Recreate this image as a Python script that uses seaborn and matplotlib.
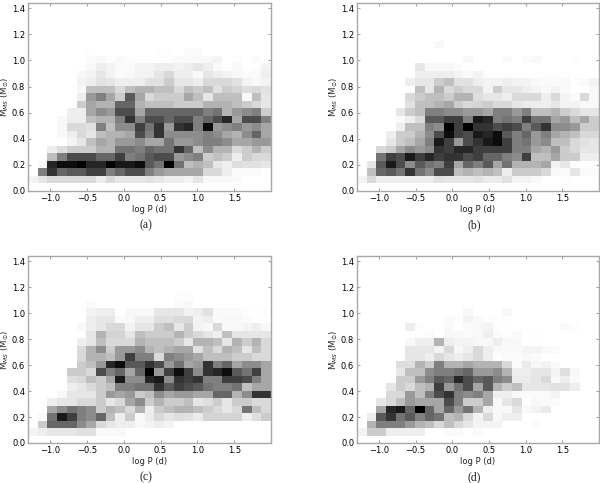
import numpy as np
import pandas as pd
import matplotlib
matplotlib.use('Agg')
import matplotlib.pyplot as plt
import seaborn as sns

# darkness of each cell, bottom row first, left column first (100 = black)
# rows shorter than 25 cells are white on the right
panel_a = [
    [],
    [5, 10, 15, 15, 15, 15, 15, 8, 15, 10, 10, 10, 12, 10, 7, 7, 5, 10, 3, 3, 3, 2],
    [0, 50, 80, 60, 65, 65, 75, 75, 50, 60, 70, 70, 50, 40, 35, 35, 35, 35, 15, 15, 7, 2, 2, 2],
    [0, 3, 85, 95, 95, 100, 85, 85, 100, 90, 90, 95, 65, 55, 100, 55, 25, 30, 25, 10, 7, 13, 12, 12, 10],
    [0, 0, 25, 50, 70, 70, 70, 60, 60, 75, 50, 55, 65, 70, 70, 40, 45, 50, 20, 25, 20, 7, 20, 15, 15],
    [0, 0, 7, 13, 20, 20, 20, 30, 30, 55, 55, 50, 60, 55, 55, 80, 60, 25, 45, 30, 30, 15, 20, 30, 20],
    [0, 0, 0, 0, 5, 10, 25, 35, 30, 40, 40, 45, 35, 35, 55, 40, 40, 45, 50, 50, 45, 35, 35, 40, 40],
    [0, 0, 0, 3, 7, 15, 10, 25, 30, 30, 35, 70, 50, 80, 45, 45, 45, 45, 50, 45, 35, 30, 45, 60, 35],
    [0, 0, 0, 3, 15, 15, 12, 50, 25, 45, 45, 75, 55, 80, 40, 80, 85, 50, 95, 40, 45, 50, 40, 45, 35],
    [0, 0, 0, 3, 7, 7, 25, 30, 30, 50, 80, 50, 70, 70, 60, 70, 70, 50, 60, 70, 85, 35, 70, 70, 50],
    [0, 0, 0, 0, 7, 7, 35, 45, 40, 70, 70, 35, 60, 60, 60, 60, 60, 60, 50, 55, 30, 40, 45, 50, 20],
    [0, 0, 0, 0, 0, 20, 35, 30, 30, 60, 60, 30, 25, 25, 25, 20, 20, 20, 30, 30, 30, 25, 20, 15, 10],
    [0, 0, 0, 0, 0, 7, 40, 50, 35, 20, 65, 35, 15, 20, 20, 20, 35, 25, 10, 25, 25, 25, 3, 25, 10],
    [0, 0, 0, 0, 0, 3, 25, 25, 25, 15, 25, 30, 30, 25, 25, 15, 25, 20, 25, 12, 20, 17, 13, 15, 12],
    [0, 0, 0, 0, 0, 5, 7, 12, 10, 7, 7, 7, 12, 12, 20, 10, 10, 7, 15, 15, 15, 12, 5, 3, 5],
    [0, 0, 0, 0, 0, 3, 5, 10, 5, 2, 3, 5, 5, 10, 15, 7, 7, 3, 10, 7, 5, 3, 2, 2, 7],
    [0, 0, 0, 0, 0, 0, 3, 7, 5, 2, 2, 5, 5, 7, 7, 5, 7, 10, 7, 2, 1, 3, 0, 1, 5],
    [0, 0, 0, 0, 0, 0, 2, 3, 1, 2, 1, 1, 1, 1, 1, 2, 2, 3, 3, 5, 0, 1, 0, 2],
    [0, 0, 0, 0, 0, 0, 1, 0, 0, 0, 0, 0, 0, 1, 1, 0, 2, 2],
]
panel_b = [
    [],
    [5, 15, 7, 7, 7, 7, 7, 7, 12, 10, 10, 10, 12, 8, 8, 12, 5, 5, 3, 0, 0, 1],
    [0, 25, 60, 65, 55, 80, 55, 45, 70, 70, 25, 30, 25, 30, 25, 7, 20, 20, 20, 15, 3, 2, 10, 2, 2],
    [0, 10, 65, 90, 70, 45, 65, 55, 50, 75, 35, 60, 50, 65, 35, 55, 30, 30, 30, 35, 5, 10],
    [0, 0, 55, 75, 70, 90, 75, 85, 75, 80, 80, 70, 75, 60, 60, 50, 45, 75, 25, 25, 35, 20, 20, 7, 7],
    [0, 0, 15, 20, 35, 45, 40, 45, 80, 75, 85, 85, 75, 75, 75, 75, 50, 50, 35, 30, 40, 20, 15, 10, 10],
    [0, 0, 0, 10, 20, 25, 35, 50, 90, 75, 40, 70, 80, 90, 95, 75, 50, 55, 40, 45, 25, 25, 15, 12, 10],
    [0, 0, 0, 7, 20, 20, 30, 45, 70, 95, 75, 70, 90, 85, 95, 65, 50, 60, 40, 50, 35, 30, 25, 15, 15],
    [0, 0, 0, 0, 7, 25, 25, 50, 45, 100, 75, 100, 80, 80, 70, 75, 70, 50, 65, 80, 45, 45, 40, 20, 20],
    [0, 0, 0, 0, 3, 7, 15, 65, 65, 75, 75, 50, 90, 85, 50, 55, 50, 75, 55, 55, 35, 40, 25, 35, 20],
    [0, 0, 0, 0, 10, 20, 25, 50, 50, 45, 45, 40, 40, 35, 50, 50, 40, 50, 25, 25, 30, 20, 15, 10, 10],
    [0, 0, 0, 0, 0, 12, 25, 25, 30, 35, 20, 15, 17, 20, 15, 15, 10, 8, 7, 7, 10, 5, 5, 3, 3],
    [0, 0, 0, 0, 0, 15, 20, 25, 25, 20, 30, 30, 13, 10, 10, 7, 15, 15, 15, 7, 15, 5, 2, 15, 3],
    [0, 0, 0, 0, 0, 0, 25, 10, 30, 15, 20, 15, 15, 5, 20, 10, 10, 7, 5, 3, 5, 3, 0, 0, 3],
    [0, 0, 0, 0, 0, 7, 10, 10, 20, 25, 12, 12, 7, 5, 5, 7, 5, 5, 3, 2, 2, 3, 1, 2, 5],
    [0, 0, 0, 0, 0, 0, 7, 7, 7, 7, 5, 2, 5, 1, 1, 1, 1, 1, 1, 1, 1, 1],
    [0, 0, 0, 0, 0, 0, 10, 3, 3, 3, 2],
    [0, 0, 0, 0, 0, 0, 0, 0, 0, 0, 0, 3, 0, 0, 0, 2, 0, 2, 3, 0, 0, 0, 1],
    [],
    [0, 0, 0, 0, 0, 0, 0, 0, 3],
]
panel_c = [
    [],
    [5, 7, 10, 10, 10, 12, 12, 2, 2, 3],
    [0, 20, 60, 60, 60, 45, 35, 15, 10, 7, 7, 3, 5, 7, 5],
    [0, 2, 55, 90, 75, 50, 45, 60, 25, 7, 20, 3, 8, 15, 10, 13, 12, 8, 17, 17, 17, 17, 7, 13, 20],
    [0, 0, 35, 45, 55, 50, 45, 20, 30, 25, 15, 30, 7, 20, 25, 30, 30, 25, 20, 15, 10, 15, 55, 25, 15],
    [0, 0, 7, 10, 10, 15, 15, 20, 10, 15, 35, 45, 20, 30, 20, 20, 25, 10, 13, 20, 10, 20, 20, 15, 15],
    [0, 0, 0, 3, 10, 10, 10, 20, 40, 35, 40, 20, 25, 45, 35, 40, 40, 35, 35, 60, 60, 30, 45, 80, 80],
    [0, 0, 0, 0, 7, 10, 15, 20, 25, 50, 50, 55, 55, 80, 65, 75, 70, 65, 55, 50, 50, 55, 25, 35, 35],
    [0, 0, 0, 0, 13, 15, 25, 20, 35, 90, 45, 45, 85, 90, 45, 80, 75, 80, 50, 50, 75, 75, 70, 50, 35],
    [0, 0, 0, 0, 20, 20, 15, 70, 50, 60, 35, 60, 100, 40, 75, 95, 75, 45, 80, 85, 95, 65, 55, 75, 35],
    [0, 0, 0, 0, 0, 20, 25, 40, 85, 95, 65, 65, 80, 70, 40, 55, 35, 40, 80, 50, 60, 35, 45, 45, 35],
    [0, 0, 0, 0, 0, 15, 30, 30, 25, 40, 75, 50, 50, 15, 50, 45, 40, 35, 25, 25, 25, 20, 20, 15, 15],
    [0, 0, 0, 0, 0, 15, 30, 45, 20, 40, 40, 45, 30, 25, 30, 35, 35, 12, 25, 15, 30, 25, 10, 25, 15],
    [0, 0, 0, 0, 0, 7, 10, 25, 15, 15, 15, 30, 25, 25, 25, 20, 10, 30, 30, 25, 10, 30, 20, 30, 15],
    [0, 0, 0, 0, 0, 0, 10, 30, 17, 17, 10, 25, 20, 20, 20, 30, 20, 15, 10, 7, 25, 10, 10, 10, 10],
    [0, 0, 0, 0, 0, 3, 7, 10, 15, 15, 5, 10, 10, 20, 25, 10, 20, 5, 3, 15, 3, 3, 5, 7, 3],
    [0, 0, 0, 0, 0, 0, 7, 10, 10, 2, 3, 7, 7, 13, 13, 15, 15, 5, 7, 2, 3, 3, 2],
    [0, 0, 0, 0, 0, 0, 5, 7, 7, 0, 3, 3, 3, 10, 10, 10, 5, 7, 12, 3, 2, 2, 1, 0, 1],
    [0, 0, 0, 0, 0, 0, 2, 0, 0, 0, 0, 0, 0, 0, 0, 2, 3],
    [0, 0, 0, 0, 0, 0, 0, 0, 0, 0, 0, 0, 0, 0, 0, 1, 1],
]
panel_d = [
    [],
    [5, 20, 20, 7, 7, 7, 7, 0, 0, 2, 2, 0, 2],
    [0, 30, 50, 50, 50, 40, 30, 25, 15, 25, 15, 10, 5, 5, 5, 0, 0, 0, 2],
    [0, 7, 65, 80, 55, 65, 50, 60, 55, 25, 30, 15, 5, 15, 3, 7, 7],
    [0, 0, 35, 85, 90, 60, 100, 60, 35, 60, 40, 55, 30, 7, 3, 3, 10, 3, 5, 8],
    [0, 0, 10, 15, 25, 40, 35, 35, 35, 70, 50, 20, 20, 35, 3, 10, 15, 0, 3, 2, 2],
    [0, 0, 0, 15, 15, 40, 25, 50, 70, 80, 50, 45, 50, 35, 7, 7, 3, 2, 2, 2, 5],
    [0, 0, 0, 10, 20, 15, 25, 30, 75, 40, 55, 70, 35, 65, 30, 20, 25, 10, 10, 10, 12, 12, 7],
    [0, 0, 0, 0, 20, 20, 40, 50, 65, 60, 85, 70, 60, 65, 50, 45, 8, 8, 10, 15, 3, 7, 2],
    [0, 0, 0, 0, 10, 25, 25, 45, 50, 50, 55, 60, 40, 40, 45, 30, 7, 7, 10, 10, 5, 13, 3],
    [0, 0, 0, 0, 13, 13, 30, 20, 50, 30, 30, 35, 30, 30, 30, 15, 2, 8, 3, 5, 2],
    [0, 0, 0, 0, 0, 10, 10, 7, 15, 10, 7, 10, 15, 7, 1, 2, 2, 3, 2],
    [0, 0, 0, 0, 0, 10, 10, 10, 5, 15, 3, 7, 15, 7, 3, 3, 3, 5, 5, 3, 2],
    [0, 0, 0, 0, 0, 3, 7, 7, 30, 7, 5, 5, 3, 3, 7, 3, 3],
    [0, 0, 0, 0, 0, 0, 1, 2, 0, 3, 3, 2, 3, 7, 2, 1, 2, 0, 1],
    [0, 0, 0, 0, 0, 7, 1, 0, 0, 2, 0, 2, 3, 5, 1, 1, 0, 0, 0, 0, 0, 2, 1],
    [0, 0, 0, 0, 0, 0, 0, 0, 0, 2, 1, 5, 3, 1, 1, 1],
    [0, 0, 0, 0, 0, 0, 0, 0, 0, 0, 0, 3, 0, 0, 0, 3],
]
captions = ['(a)', '(b)', '(c)', '(d)']
x_ticks = [-1.0, -0.5, 0.0, 0.5, 1.0, 1.5]
y_ticks = [0.0, 0.2, 0.4, 0.6, 0.8, 1.0, 1.2, 1.4]

# histogram grid
x_edges = np.linspace(-1.3, 2.0, 26)
y_edges = np.linspace(0.0, 1.44, 26)
x_mid = (x_edges[:-1] + x_edges[1:]) / 2
y_mid = (y_edges[:-1] + y_edges[1:]) / 2


def to_long(rows):
    recs = []
    for j, row in enumerate(rows):
        for i, val in enumerate(row):
            recs.append((x_mid[i], y_mid[j], val))
    return pd.DataFrame(recs, columns=['logP', 'mass', 'dark'])


sns.set_style('white')
plt.rcParams['font.family'] = 'DejaVu Sans'
plt.rcParams['mathtext.fontset'] = 'dejavusans'

fig = plt.figure(figsize=(6, 4.83), dpi=100)
W, H = 600, 483
# axes boxes in pixels: left, top, right, bottom
boxes = [(28, 3, 271, 191), (357, 3, 599, 191),
         (28, 256, 271, 443), (357, 256, 599, 443)]
panels = [panel_a, panel_b, panel_c, panel_d]

for rows, box, cap in zip(panels, boxes, captions):
    l, t, r, b = box
    ax = fig.add_axes([l / W, 1 - b / H, (r - l) / W, (b - t) / H])
    sns.histplot(data=to_long(rows), x='logP', y='mass', weights='dark',
                 bins=[x_edges, y_edges], cmap='gray_r', vmin=0, vmax=100, ax=ax)
    ax.set_xlim(-1.3, 2.0)
    ax.set_ylim(0, 1.44)
    ax.set_xticks(x_ticks)
    ax.set_yticks(y_ticks)
    ax.tick_params(direction='in', top=True, right=True, bottom=True, left=True,
                   length=2.2, width=0.4, color='#555555', labelsize=6,
                   pad=2, labelcolor='black')
    for s in ax.spines.values():
        s.set_visible(True)
        s.set_color('#a8a8a8')
        s.set_linewidth(1.0)
    ax.set_xlabel('log P (d)', fontsize=6, labelpad=1.5, color='#222222')
    ax.set_ylabel(r'M$_{MS}$ (M$_{\odot}$)', fontsize=6.2, color='#222222')
    ax.yaxis.set_label_coords(-0.07, 0.5)
    fig.text(((l + r) / 2 - 4) / W, 1 - (b + 34) / H, cap, family='Liberation Serif',
             fontsize=8.5, ha='center', va='center', color='#222222')

fig.savefig('out.png', dpi=100)
